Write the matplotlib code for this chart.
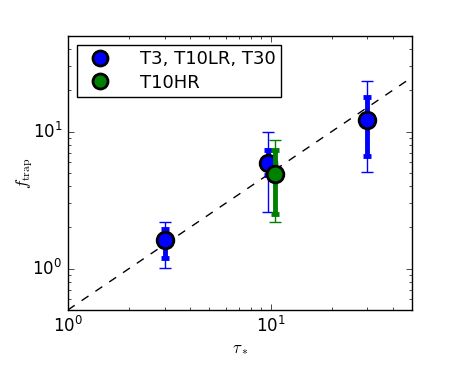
import matplotlib
matplotlib.use("Agg")
import matplotlib.pyplot as plt
import numpy as np

plt.style.use("classic")
plt.rcParams["mathtext.fontset"] = "cm"

# Blue series: T3, T10LR, T30
tau_blue = [3.0, 9.7, 30.0]
f_blue = [1.61, 5.9, 12.1]
inner_lo_blue = [1.19, 4.8, 6.6]
inner_hi_blue = [1.95, 7.35, 18.0]
outer_lo_blue = [1.01, 2.6, 5.1]
outer_hi_blue = [2.18, 10.0, 23.5]

# Green series: T10HR
tau_green = [10.5]
f_green = [4.9]
inner_lo_green = [2.5]
inner_hi_green = [7.35]
outer_lo_green = [2.21]
outer_hi_green = [8.7]

# reference line f = tau / 2
tau_line = [1.0, 50.0]
f_line = [0.5, 25.0]

labels = ["T3, T10LR, T30", "T10HR"]

fig = plt.figure(figsize=(4.58, 3.66), dpi=100, facecolor="white")
ax = fig.add_axes([0.148, 0.153, 0.752, 0.749])
ax.set_facecolor("white")

ax.plot(tau_line, f_line, "k--", lw=1)

def draw(tau, f, ilo, ihi, olo, ohi, color, label):
    f = np.array(f)
    oerr = [f - np.array(olo), np.array(ohi) - f]
    ierr = [f - np.array(ilo), np.array(ihi) - f]
    ax.errorbar(tau, f, yerr=oerr, fmt="none", ecolor=color, elinewidth=1,
                capsize=4, capthick=1)
    ax.errorbar(tau, f, yerr=ierr, fmt="none", ecolor=color, elinewidth=3.5,
                capsize=3, capthick=3.5)
    ax.plot(tau, f, "o", color=color, markersize=12, markeredgecolor="black",
            markeredgewidth=2, label=label)

draw(tau_blue, f_blue, inner_lo_blue, inner_hi_blue, outer_lo_blue, outer_hi_blue, "blue", labels[0])
draw(tau_green, f_green, inner_lo_green, inner_hi_green, outer_lo_green, outer_hi_green, "green", labels[1])

ax.set_xscale("log")
ax.set_yscale("log")
ax.set_xlim(1, 50)
ax.set_ylim(0.5, 50)
ax.set_xlabel(r"$\tau_*$", fontsize=12, labelpad=2)
ax.set_ylabel(r"$f_{\rm trap}$", fontsize=12, labelpad=-2)
ax.tick_params(labelsize=12)
ax.legend(loc="upper left", numpoints=1, fontsize=13, frameon=True,
          borderpad=0.3, labelspacing=0.3, handletextpad=1.2,
          borderaxespad=0.5, markerscale=0.9)

fig.savefig("out.png", dpi=100, facecolor="white")
